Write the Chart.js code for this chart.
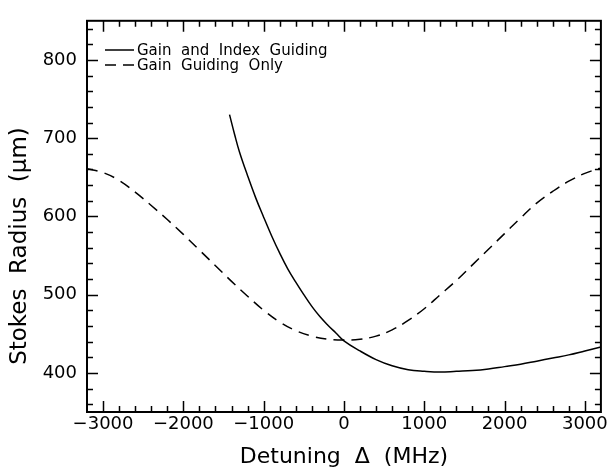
<!DOCTYPE html>
<html>
<head>
<meta charset="utf-8">
<script src="https://cdn.jsdelivr.net/npm/chart.js@4.4.0/dist/chart.umd.min.js"></script>
<style>
  html, body { margin: 0; padding: 0; background: #fff; }
  #wrap { width: 610px; height: 470px; }
</style>
</head>
<body>
<div id="wrap"><canvas id="myChart" width="610" height="470"></canvas></div>
<script>
// values
const dashX = [-3200, -3000, -2800, -2600, -2400, -2200, -2000, -1800, -1600, -1400, -1200, -1000, -800, -600, -400, -200, 0,
  200, 400, 600, 800, 1000, 1200, 1400, 1600, 1800, 2000, 2200, 2400, 2600, 2800, 3000, 3200];
const dashY = [661, 656, 646, 631, 614, 596, 577, 557, 537, 517, 498, 480, 465, 454, 447, 443, 442,
  443, 447, 455, 467, 482, 500, 518, 538, 558, 578, 598, 617, 632, 645, 655, 662];

const solidX = [-1425, -1360, -1300, -1200, -1100, -1000, -900, -800, -700, -600, -500, -400, -300, -200, -100, 0,
  200, 400, 600, 800, 1000, 1200, 1400, 1600, 1800, 2000, 2200, 2400, 2600, 2800, 3000, 3200];
const solidY = [730, 704, 682, 652, 624, 599, 575, 553, 533, 516, 500, 485, 472, 461, 451, 441,
  428, 417, 409, 404, 402, 401, 402, 403, 405, 408, 411, 415, 419, 423, 428, 433];

const xTicks = [-3000, -2000, -1000, 0, 1000, 2000, 3000];
const xTickLabels = ["\u22123000", "\u22122000", "\u22121000", "0", "1000", "2000", "3000"];
const yTicks = [400, 500, 600, 700, 800];

const seriesNames = ["Gain  and  Index  Guiding", "Gain  Guiding  Only"];
const FONT = "DejaVu Sans";

const toPoints = (xs, ys) => xs.map((x, i) => ({ x: x, y: ys[i] }));

// frame, inward ticks on all four sides, legend and y title
const framePlugin = {
  id: "frame",
  afterDraw(chart) {
    const ctx = chart.ctx;
    const a = chart.chartArea;
    const sx = chart.scales.x;
    const sy = chart.scales.y;
    ctx.save();
    ctx.strokeStyle = "#000";
    ctx.lineWidth = 1.5;
    ctx.beginPath();
    for (let v = -3000; v <= 3000; v += 200) {
      const len = v % 1000 === 0 ? 11 : 6;
      const px = Math.round(sx.getPixelForValue(v)) + 0.5;
      ctx.moveTo(px, a.bottom); ctx.lineTo(px, a.bottom - len);
      ctx.moveTo(px, a.top); ctx.lineTo(px, a.top + len);
    }
    for (let v = 360; v <= 840; v += 20) {
      const len = v % 100 === 0 ? 11 : 6;
      const py = Math.round(sy.getPixelForValue(v)) + 0.5;
      ctx.moveTo(a.left, py); ctx.lineTo(a.left + len, py);
      ctx.moveTo(a.right, py); ctx.lineTo(a.right - len, py);
    }
    ctx.stroke();
    ctx.lineWidth = 2;
    ctx.strokeRect(a.left, a.top, a.right - a.left, a.bottom - a.top);

    // legend
    ctx.font = "15px '" + FONT + "'";
    ctx.textBaseline = "middle";
    ctx.fillStyle = "#000";
    chart.data.datasets.forEach((ds, i) => {
      const y = 50 + i * 15;
      ctx.lineWidth = 1.5;
      ctx.setLineDash(ds.borderDash || []);
      ctx.beginPath();
      ctx.moveTo(105, y); ctx.lineTo(134, y);
      ctx.stroke();
      ctx.setLineDash([]);
      ctx.fillText(ds.label, 137, y + 1);
    });

    // y axis title
    ctx.translate(20, 246);
    ctx.rotate(-Math.PI / 2);
    ctx.textAlign = "center";
    ctx.font = "23px '" + FONT + "'";
    ctx.fillText("Stokes  Radius  (\u03bcm)", 0, 0);
    ctx.restore();
  }
};

const config = {
  type: "line",
  data: {
    datasets: [
      {
        label: seriesNames[0],
        data: toPoints(solidX, solidY),
        borderColor: "#000",
        borderWidth: 1.5,
        pointRadius: 0,
        tension: 0.4,
      },
      {
        label: seriesNames[1],
        data: toPoints(dashX, dashY),
        borderColor: "#000",
        borderWidth: 1.5,
        borderDash: [11, 7],
        pointRadius: 0,
        tension: 0.4,
      },
    ],
  },
  options: {
    responsive: false,
    animation: false,
    layout: { padding: { top: 9, right: 8, left: 0, bottom: 0 } },
    plugins: { legend: { display: false }, tooltip: { enabled: false } },
    scales: {
      x: {
        type: "linear",
        min: -3200,
        max: 3200,
        grid: { display: false, drawTicks: false },
        border: { display: false },
        afterBuildTicks: (s) => { s.ticks = xTicks.map((v) => ({ value: v })); },
        afterFit: (s) => { s.height = 58; },
        ticks: {
          padding: 2,
          color: "#000",
          font: { family: FONT, size: 18 },
          maxRotation: 0,
          callback: (v) => xTickLabels[xTicks.indexOf(v)],
        },
        title: {
          display: true,
          text: "Detuning  \u0394  (MHz)",
          color: "#000",
          font: { family: FONT, size: 22 },
          padding: { top: 0, bottom: 0 },
        },
      },
      y: {
        type: "linear",
        min: 350,
        max: 850,
        grid: { display: false, drawTicks: false },
        border: { display: false },
        afterBuildTicks: (s) => { s.ticks = yTicks.map((v) => ({ value: v })); },
        afterFit: (s) => { s.width = 87; },
        ticks: {
          padding: 10,
          color: "#000",
          font: { family: FONT, size: 18 },
        },
      },
    },
  },
  plugins: [framePlugin],
};

const context = document.getElementById("myChart").getContext("2d");
const chart = new Chart(context, config);
</script>
</body>
</html>
